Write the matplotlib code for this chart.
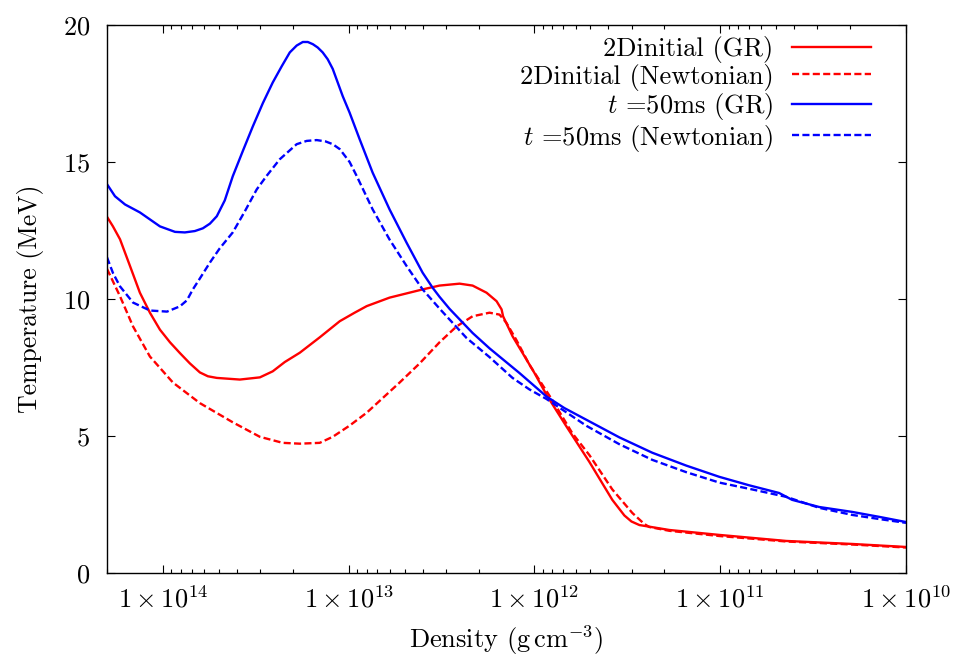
import numpy as np
import matplotlib
matplotlib.use("Agg")
import matplotlib.pyplot as plt
from matplotlib.ticker import FixedLocator, LogLocator, FuncFormatter, NullFormatter

plt.rcParams['font.family'] = 'cmr10'
plt.rcParams['mathtext.fontset'] = 'cm'
plt.rcParams['axes.unicode_minus'] = False
plt.rcParams['axes.formatter.use_mathtext'] = True

# log10 of density (g cm^-3) and temperature (MeV)
log_rho_init_gr = [14.301, 14.269, 14.231, 14.177, 14.124, 14.070, 14.016, 13.962, 13.909, 13.855,
                   13.801, 13.758, 13.710, 13.586, 13.478, 13.409, 13.344, 13.263, 13.156, 13.048,
                   12.968, 12.903, 12.780, 12.602, 12.511, 12.403, 12.333, 12.258, 12.204, 12.177,
                   12.169, 12.118, 12.043, 12.000, 11.935, 11.828, 11.704, 11.581, 11.516, 11.478,
                   11.435, 11.274, 11.005, 10.645, 10.290, 10.0]
T_init_gr = [13.0, 12.65, 12.18, 11.2, 10.23, 9.5, 8.88, 8.42, 8.03, 7.65,
             7.32, 7.18, 7.12, 7.06, 7.14, 7.36, 7.7, 8.04, 8.6, 9.19,
             9.5, 9.74, 10.05, 10.35, 10.49, 10.56, 10.49, 10.23, 9.92, 9.62,
             9.37, 8.64, 7.79, 7.3, 6.5, 5.35, 4.05, 2.67, 2.1, 1.88,
             1.75, 1.57, 1.39, 1.17, 1.06, 0.95]

log_rho_init_newt = [14.301, 14.231, 14.161, 14.070, 13.946, 13.801, 13.624, 13.478, 13.355,
                     13.263, 13.156, 13.086, 12.995, 12.903, 12.726, 12.618, 12.511, 12.419,
                     12.333, 12.242, 12.188, 12.151, 12.097, 12.027, 11.903, 11.796, 11.704,
                     11.581, 11.473, 11.409, 11.382, 11.274, 11.005, 10.645, 10.290, 10.0]
T_init_newt = [11.1, 10.1, 9.0, 7.9, 6.95, 6.2, 5.5, 4.97, 4.75,
               4.72, 4.75, 4.97, 5.38, 5.85, 6.95, 7.65, 8.42, 9.0,
               9.37, 9.5, 9.43, 9.13, 8.5, 7.6, 6.3, 5.1, 4.3,
               3.05, 2.19, 1.79, 1.68, 1.54, 1.35, 1.15, 1.04, 0.93]

log_rho_50_gr = [14.301, 14.258, 14.204, 14.124, 14.016, 13.935, 13.882, 13.828, 13.785, 13.747,
                 13.710, 13.667, 13.624, 13.570, 13.516, 13.462, 13.409, 13.360, 13.317, 13.280,
                 13.247, 13.220, 13.193, 13.167, 13.140, 13.113, 13.086, 13.032, 12.995, 12.941,
                 12.871, 12.780, 12.688, 12.602, 12.548, 12.511, 12.457, 12.333, 12.242, 12.081,
                 11.935, 11.839, 11.720, 11.543, 11.366, 11.183, 11.005, 10.844, 10.683, 10.613,
                 10.468, 10.290, 10.145, 10.0]
T_50_gr = [14.19, 13.75, 13.45, 13.16, 12.65, 12.45, 12.43, 12.48, 12.58, 12.75,
           13.02, 13.6, 14.48, 15.4, 16.3, 17.15, 17.9, 18.5, 19.0, 19.25,
           19.38, 19.38, 19.3, 19.18, 19.0, 18.75, 18.4, 17.4, 16.8, 15.83,
           14.61, 13.27, 12.05, 10.96, 10.41, 10.08, 9.64, 8.76, 8.2, 7.3,
           6.44, 6.02, 5.59, 4.95, 4.39, 3.92, 3.51, 3.2, 2.92, 2.67,
           2.41, 2.23, 2.05, 1.86]

log_rho_50_newt = [14.301, 14.269, 14.231, 14.161, 14.070, 13.978, 13.909, 13.871, 13.839, 13.801,
                   13.747, 13.694, 13.624, 13.559, 13.495, 13.441, 13.371, 13.280, 13.226, 13.172,
                   13.124, 13.086, 13.048, 12.995, 12.957, 12.871, 12.780, 12.688, 12.602, 12.511,
                   12.366, 12.242, 12.118, 12.027, 11.935, 11.720, 11.543, 11.366, 11.183, 11.005,
                   10.828, 10.645, 10.468, 10.290, 10.145, 10.0]
T_50_newt = [11.52, 10.95, 10.46, 9.87, 9.58, 9.54, 9.73, 9.95, 10.35, 10.75,
             11.33, 11.85, 12.43, 13.2, 14.0, 14.5, 15.1, 15.65, 15.77, 15.8,
             15.75, 15.65, 15.47, 15.0, 14.49, 13.27, 12.17, 11.2, 10.35, 9.65,
             8.58, 7.88, 7.12, 6.7, 6.35, 5.37, 4.7, 4.13, 3.68, 3.3,
             3.05, 2.78, 2.38, 2.12, 1.97, 1.83]

labels = ['2Dinitial (GR)', '2Dinitial (Newtonian)',
          r'$t$ =50ms (GR)', r'$t$ =50ms (Newtonian)']

fig = plt.figure(figsize=(9.58, 6.65), dpi=100)
ax = fig.add_axes([107 / 958, 1 - 573 / 665, 799 / 958, 548 / 665])

dash = (3.0, 1.4)
lw = 1.7
ax.plot(10 ** np.array(log_rho_init_gr), T_init_gr, color='#ff0000', lw=lw, label=labels[0])
ax.plot(10 ** np.array(log_rho_init_newt), T_init_newt, color='#ff0000', lw=lw,
        dashes=dash, label=labels[1])
ax.plot(10 ** np.array(log_rho_50_gr), T_50_gr, color='#0000ff', lw=lw, label=labels[2])
ax.plot(10 ** np.array(log_rho_50_newt), T_50_newt, color='#0000ff', lw=lw,
        dashes=dash, label=labels[3])

ax.set_xscale('log')
ax.set_xlim(2e14, 1e10)
ax.set_ylim(0, 20)
ax.set_yticks([0, 5, 10, 15, 20])
ax.xaxis.set_major_locator(FixedLocator([1e14, 1e13, 1e12, 1e11, 1e10]))
ax.xaxis.set_minor_locator(LogLocator(base=10, subs=np.arange(2, 10)))
ax.xaxis.set_minor_formatter(NullFormatter())
ax.xaxis.set_major_formatter(FuncFormatter(
    lambda v, p: r'$1\times10^{%d}$' % round(np.log10(v))))

ax.tick_params(which='both', direction='in', top=True, right=True, width=0.8)
ax.tick_params(which='major', length=6, labelsize=19)
ax.tick_params(which='minor', length=3)
ax.tick_params(axis='x', which='major', pad=9)
ax.tick_params(axis='y', which='major', pad=12)
for s in ax.spines.values():
    s.set_linewidth(1.0)

ax.set_xlabel(r'Density $(\mathrm{g\,cm^{-3}})$', fontsize=19, labelpad=8)
ax.set_ylabel('Temperature (MeV)', fontsize=18.5, labelpad=14)

ax.legend(loc='upper right', bbox_to_anchor=((871 - 107) / 799, 1 - 11 / 548),
          frameon=False, markerfirst=False, fontsize=19, handlelength=3.0,
          handletextpad=0.7, labelspacing=0.02, borderpad=0, borderaxespad=0)

fig.savefig('out.png', dpi=100)
